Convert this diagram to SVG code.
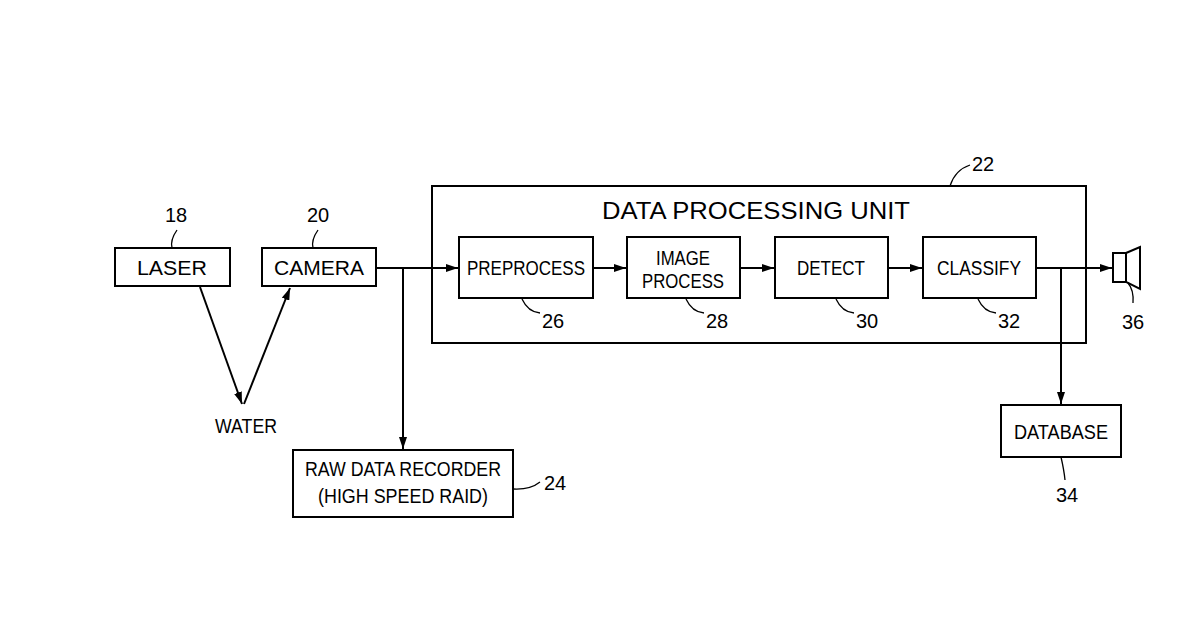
<svg xmlns="http://www.w3.org/2000/svg" width="1200" height="630" viewBox="0 0 1200 630">
<style>
.b{fill:#fff;stroke:#000;stroke-width:2}
.t{font-family:"Liberation Sans",Arial,sans-serif;font-size:20px;text-anchor:middle;fill:#000}
.n{font-family:"Liberation Sans",Arial,sans-serif;font-size:20px;fill:#000}
.l{fill:none;stroke:#000;stroke-width:2}
.c{fill:none;stroke:#000;stroke-width:1.3}
</style>
<defs><marker id="a" markerWidth="12" markerHeight="8" refX="12" refY="4" orient="auto" markerUnits="userSpaceOnUse"><path d="M0,0L12,4L0,8z" fill="#000"/></marker></defs>
<rect width="1200" height="630" fill="#fff"/>
<g id="dpu"><rect class="b" x="432" y="186" width="654" height="157"/><text class="t" x="756" y="219" style="font-size:24px" textLength="308" lengthAdjust="spacingAndGlyphs">DATA PROCESSING UNIT</text><path class="c" d="M950,186 Q955,170 970,165"/><text class="n" x="972" y="171">22</text></g>
<g id="laser"><rect class="b" x="115" y="248" width="115" height="38"/><text class="t" x="172" y="275" textLength="70" lengthAdjust="spacingAndGlyphs">LASER</text><path class="c" d="M172,248 Q170,240 177,230"/><text class="t" x="176" y="222">18</text></g>
<g id="camera"><rect class="b" x="262" y="248" width="114" height="38"/><text class="t" x="319" y="275" textLength="90" lengthAdjust="spacingAndGlyphs">CAMERA</text><path class="c" d="M313,248 Q311,240 318,230"/><text class="t" x="318" y="222">20</text></g>
<g id="water"><text class="t" x="246" y="433" textLength="62" lengthAdjust="spacingAndGlyphs">WATER</text></g>
<g id="pre"><rect class="b" x="459" y="237" width="134" height="61"/><text class="t" x="526" y="275" textLength="118" lengthAdjust="spacingAndGlyphs">PREPROCESS</text><path class="c" d="M522,299 Q528,312 540,313"/><text class="n" x="542" y="328">26</text></g>
<g id="img"><rect class="b" x="627" y="237" width="113" height="61"/><text class="t" x="683" y="265" textLength="54" lengthAdjust="spacingAndGlyphs">IMAGE</text><text class="t" x="683" y="288" textLength="82" lengthAdjust="spacingAndGlyphs">PROCESS</text><path class="c" d="M686,299 Q692,312 704,313"/><text class="n" x="706" y="328">28</text></g>
<g id="detect"><rect class="b" x="775" y="237" width="113" height="61"/><text class="t" x="831" y="275" textLength="68" lengthAdjust="spacingAndGlyphs">DETECT</text><path class="c" d="M836,299 Q842,312 854,313"/><text class="n" x="856" y="328">30</text></g>
<g id="classify"><rect class="b" x="923" y="237" width="113" height="61"/><text class="t" x="979" y="275" textLength="84" lengthAdjust="spacingAndGlyphs">CLASSIFY</text><path class="c" d="M978,299 Q984,312 996,313"/><text class="n" x="998" y="328">32</text></g>
<g id="raw"><rect class="b" x="293" y="450" width="220" height="67"/><text class="t" x="403" y="476" textLength="196" lengthAdjust="spacingAndGlyphs">RAW DATA RECORDER</text><text class="t" x="403" y="503" textLength="170" lengthAdjust="spacingAndGlyphs">(HIGH SPEED RAID)</text><path class="c" d="M513,489 Q530,490 540,482"/><text class="n" x="544" y="490">24</text></g>
<g id="db"><rect class="b" x="1001" y="405" width="120" height="52"/><text class="t" x="1061" y="439" textLength="94" lengthAdjust="spacingAndGlyphs">DATABASE</text><path class="c" d="M1061,457 Q1064,470 1065,480"/><text class="t" x="1067" y="502">34</text></g>
<g id="speaker"><rect class="b" x="1113" y="253" width="13" height="29"/><path class="b" d="M1126,253 L1140,247 L1140,289 L1126,282z"/><path class="c" d="M1128,283 Q1134,290 1133,303"/><text class="t" x="1133" y="329">36</text></g>
<g id="connectors">
<path class="l" d="M200,287 L242,404" marker-end="url(#a)"/>
<path class="l" d="M244,404 L290,288" marker-end="url(#a)"/>
<path class="l" d="M376,268 L458,268" marker-end="url(#a)"/>
<path class="l" d="M403,268 L403,449" marker-end="url(#a)"/>
<path class="l" d="M593,268 L626,268" marker-end="url(#a)"/>
<path class="l" d="M740,268 L774,268" marker-end="url(#a)"/>
<path class="l" d="M888,268 L922,268" marker-end="url(#a)"/>
<path class="l" d="M1036,268 L1112,268" marker-end="url(#a)"/>
<path class="l" d="M1061,268 L1061,404" marker-end="url(#a)"/>
</g>
</svg>
